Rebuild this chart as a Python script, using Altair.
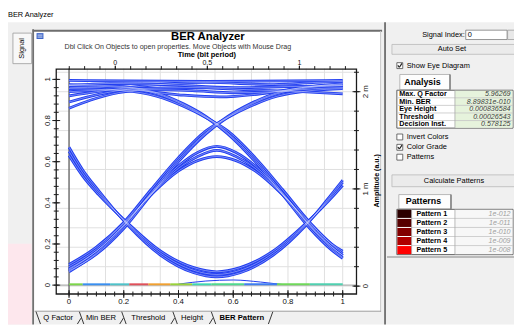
import altair as alt
import pandas as pd

FONT = "Liberation Sans"
BLUE = "#1f3cf0"
OX, OY = 8, 8  # page margin

# ---------------- eye-diagram traces (lower time axis 0..1, left amplitude axis 0..1) ----------------
rise1_x = [0, 0.1, 0.2, 0.3, 0.4, 0.5, 0.58, 0.66, 0.76, 0.88, 1.0]
rise1_y = [0.08, 0.165, 0.29, 0.45, 0.61, 0.74, 0.82, 0.88, 0.935, 0.965, 0.975]
rise2_x = [0, 0.1, 0.2, 0.3, 0.4, 0.5, 0.58, 0.66, 0.76, 0.88, 1.0]
rise2_y = [0.1, 0.185, 0.305, 0.465, 0.62, 0.75, 0.815, 0.868, 0.918, 0.945, 0.955]
rise3_x = [0, 0.1, 0.2, 0.3, 0.4, 0.5, 0.58, 0.66, 0.76, 0.88, 1.0]
rise3_y = [0.07, 0.15, 0.275, 0.44, 0.6, 0.735, 0.815, 0.875, 0.93, 0.96, 0.97]
fall1_x = [0, 0.2, 0.32, 0.42, 0.5, 0.58, 0.68, 0.78, 0.88, 0.96, 1.0]
fall1_y = [0.975, 0.965, 0.935, 0.88, 0.82, 0.74, 0.61, 0.45, 0.29, 0.185, 0.145]
fall2_x = [0, 0.2, 0.32, 0.42, 0.5, 0.58, 0.68, 0.78, 0.88, 0.96, 1.0]
fall2_y = [0.955, 0.945, 0.918, 0.868, 0.815, 0.75, 0.62, 0.465, 0.305, 0.2, 0.165]
fall3_x = [0, 0.2, 0.32, 0.42, 0.5, 0.58, 0.68, 0.78, 0.88, 0.96, 1.0]
fall3_y = [0.97, 0.96, 0.93, 0.875, 0.815, 0.735, 0.6, 0.44, 0.275, 0.17, 0.13]
archA_x = [0, 0.1, 0.2, 0.3, 0.4, 0.47, 0.54, 0.61, 0.68, 0.78, 0.88, 0.98, 1.0]
archA_y = [0.065, 0.155, 0.285, 0.445, 0.58, 0.645, 0.675, 0.645, 0.58, 0.445, 0.285, 0.155, 0.135]
archB_x = [0, 0.1, 0.2, 0.3, 0.4, 0.47, 0.54, 0.61, 0.68, 0.78, 0.88, 0.98, 1.0]
archB_y = [0.09, 0.175, 0.3, 0.44, 0.555, 0.605, 0.625, 0.605, 0.555, 0.44, 0.3, 0.175, 0.155]
archC_x = [0, 0.1, 0.2, 0.3, 0.4, 0.47, 0.54, 0.61, 0.68, 0.78, 0.88, 0.98, 1.0]
archC_y = [0.075, 0.165, 0.292, 0.442, 0.568, 0.625, 0.655, 0.625, 0.568, 0.442, 0.292, 0.165, 0.145]
uA_x = [0, 0.05, 0.108, 0.216, 0.335, 0.456, 0.54, 0.625, 0.745, 0.865, 0.97, 1.0]
uA_y = [0.67, 0.56, 0.46, 0.29, 0.145, 0.06, 0.04, 0.06, 0.145, 0.29, 0.46, 0.51]
uB_x = [0, 0.05, 0.108, 0.216, 0.335, 0.456, 0.54, 0.625, 0.745, 0.865, 0.97, 1.0]
uB_y = [0.63, 0.53, 0.44, 0.3, 0.165, 0.085, 0.065, 0.085, 0.165, 0.3, 0.44, 0.485]
uC_x = [0, 0.05, 0.108, 0.216, 0.335, 0.456, 0.54, 0.625, 0.745, 0.865, 0.97, 1.0]
uC_y = [0.65, 0.545, 0.45, 0.295, 0.155, 0.072, 0.052, 0.072, 0.155, 0.295, 0.45, 0.5]
rail1_x = [0, 0.5, 1.0]
rail1_y = [0.995, 0.99, 0.995]
rail2_x = [0, 0.15, 0.35, 0.6, 0.8, 1.0]
rail2_y = [0.97, 0.98, 0.975, 0.96, 0.965, 0.97]
rail3_x = [0, 0.08, 0.18, 0.3, 0.45, 0.6, 0.75, 0.9, 1.0]
rail3_y = [0.86, 0.9, 0.935, 0.95, 0.945, 0.935, 0.94, 0.955, 0.96]
rail4_x = [0, 0.1, 0.25, 0.45, 0.65, 0.85, 1.0]
rail4_y = [0.89, 0.925, 0.955, 0.96, 0.95, 0.94, 0.93]
rail5_x = [0, 0.2, 0.4, 0.55, 0.7, 0.85, 1.0]
rail5_y = [0.94, 0.95, 0.925, 0.915, 0.93, 0.96, 0.98]
rail6_x = [0, 0.1, 0.25, 0.5, 0.75, 0.9, 1.0]
rail6_y = [0.92, 0.94, 0.965, 0.985, 0.975, 0.985, 0.99]
tail_x = [0.4, 0.5, 0.6, 0.7, 0.78]
tail_y = [0.005, 0.02, 0.025, 0.015, 0.003]

# colour-graded samples lying on the zero level
zero_x0 = [0.0, 0.05, 0.15, 0.22, 0.29, 0.37, 0.45, 0.52, 0.64, 0.76, 0.88]
zero_x1 = [0.05, 0.15, 0.22, 0.29, 0.37, 0.45, 0.52, 0.64, 0.76, 0.88, 1.0]
zero_col = ["#7cd64a", "#3a8ff0", "#4fc2c9", "#e0505a", "#f0a030", "#9ad23a",
            "#3fd6b0", "#50d890", "#3f7ef0", "#6fd85a", "#50d0b0"]

# axes
bottom_vals = [0, 0.2, 0.4, 0.6, 0.8, 1.0]
bottom_labels = ["0", "0.2", "0.4", "0.6", "0.8", "1"]
left_vals = [0, 0.2, 0.4, 0.6, 0.8, 1.0]
left_labels = ["0", "0.2", "0.4", "0.6", "0.8", "1"]
top_vals = [0, 0.5, 1.0]
top_labels = ["0", "0.5", "1"]
right_vals = [0, 1, 2]
right_labels = ["0", "1 m", "2 m"]

# side panel
analysis_labels = ["Max. Q Factor", "Min. BER", "Eye Height", "Threshold", "Decision Inst."]
analysis_values = ["5.96269", "8.89831e-010", "0.000836584", "0.00026543", "0.578125"]
pattern_names = ["Pattern 1", "Pattern 2", "Pattern 3", "Pattern 4", "Pattern 5"]
pattern_values = ["1e-012", "1e-011", "1e-010", "1e-009", "1e-008"]
pattern_colors = ["#2b0000", "#560000", "#820000", "#b00000", "#ff0000"]
tab_names = ["Q Factor", "Min BER", "Threshold", "Height", "BER Pattern"]

# ---------------- scales (pixel ranges inside the whole chart) ----------------
XS = alt.Scale(domain=[0, 1], range=[70 - OX, 348 - OX], nice=False, zero=False)
YS = alt.Scale(domain=[0, 1], range=[287 - OY, 78 - OY], nice=False, zero=False)
XT = alt.Scale(domain=[0, 1], range=[117 - OX, 304 - OX], nice=False, zero=False)
YR = alt.Scale(domain=[0, 2], range=[288 - OY, 90.5 - OY], nice=False, zero=False)

D = pd.DataFrame({"d": [0]})
layers = []


def R(x1, y1, x2, y2, fill, stroke=None, sw=1.0, fo=1.0):
    kw = dict(fill=fill, fillOpacity=fo)
    if stroke:
        kw.update(stroke=stroke, strokeWidth=sw)
    else:
        kw.update(strokeWidth=0)
    layers.append(alt.Chart(D).mark_rect(**kw).encode(
        x=alt.value(x1 - OX), x2=alt.value(x2 - OX), y=alt.value(y1 - OY), y2=alt.value(y2 - OY)))


def L(x1, y1, x2, y2, color, sw=1.0):
    layers.append(alt.Chart(D).mark_rule(color=color, strokeWidth=sw).encode(
        x=alt.value(x1 - OX), x2=alt.value(x2 - OX), y=alt.value(y1 - OY), y2=alt.value(y2 - OY)))


def T(s, x, y, size=7.5, weight="normal", align="left", color="#000000", angle=0, style="normal"):
    layers.append(alt.Chart(D).mark_text(
        text=s, fontSize=size, fontWeight=weight, align=align, baseline="middle",
        color=color, angle=angle, fontStyle=style, font=FONT).encode(
        x=alt.value(x - OX), y=alt.value(y - OY)))


def checkbox(y, checked, label):
    R(403, y - 3, 409, y + 3, "#ffffff", stroke="#4a4a4a", sw=0.8)
    if checked:
        L(404, y - 0.3, 405.6, y + 1.7, "#202020", 1.2)
        L(405.6, y + 1.7, 408.2, y - 2.2, "#202020", 1.2)
    T(label, 413, y, 7.5)


# ---------------- window chrome ----------------
T("BER Analyzer", 8, 13, 7.5)
R(0, 20, 522, 327, "#f0f0f0")
R(0, 245, 32, 327, "#fde7ed")
R(13, 31, 32, 62, "#f8f8f8", stroke="#9a9a9a", sw=0.8)
T("Signal", 22.5, 46.5, 7.5, angle=270, align="center")
L(33.5, 27, 33.5, 327, "#5a5a5a", 1.5)
R(35, 29, 386, 313, "#ffffff")
L(33, 28.5, 388, 28.5, "#6e6e6e", 2)
L(386.5, 29, 386.5, 314, "#c8c8c8")
L(35, 313.5, 387, 313.5, "#a0a0a0")
L(391, 20, 391, 327, "#505050", 1.5)
R(37, 31, 44, 37, "#3c64c8")
L(38, 33, 43, 33, "#ffffff", 0.8)
L(38, 35, 43, 35, "#ffffff", 0.8)
T("BER Analyzer", 211, 35, 11.5, weight="bold", align="center")
T("Dbl Click On Objects to open properties.  Move Objects with Mouse Drag", 180.5, 45, 7.2,
  align="center", color="#333333")
T("Time (bit period)", 210, 53, 7.6, weight="bold", align="center")

# ---------------- grid ----------------
grid_v = pd.DataFrame({"v": [k / 15 for k in range(16)]})
layers.append(alt.Chart(grid_v).mark_rule(color="#e0e0e0", strokeWidth=1).encode(
    x=alt.X("v:Q", scale=XS, axis=None), y=alt.value(67 - OY), y2=alt.value(296 - OY)))
grid_h = pd.DataFrame({"a": [k * 0.2 for k in range(12)]})
layers.append(alt.Chart(grid_h).mark_rule(color="#e0e0e0", strokeWidth=1).encode(
    y=alt.Y("a:Q", scale=YR, axis=None), x=alt.value(57 - OX), x2=alt.value(362 - OX)))
layers.append(alt.Chart(D).mark_rule(color="#b0b0b0", strokeWidth=1.2).encode(
    y=alt.YDatum(0, scale=YS, axis=None), x=alt.value(57 - OX), x2=alt.value(362 - OX)))
layers.append(alt.Chart(D).mark_rule(color="#3a3a3a", strokeWidth=1).encode(
    x=alt.XDatum(0, scale=XS, axis=None), y=alt.value(67 - OY), y2=alt.value(296 - OY)))

# frame
layers.append(alt.Chart(D).mark_rect(fillOpacity=0, stroke="#1a1a1a", strokeWidth=1.3).encode(
    x=alt.value(57 - OX), x2=alt.value(362 - OX), y=alt.value(67.5 - OY), y2=alt.value(296 - OY)))

# ---------------- ticks ----------------
bt_minor = pd.DataFrame({"v": [k / 30 for k in range(31)]})
layers.append(alt.Chart(bt_minor).mark_rule(color="#1a1a1a", strokeWidth=1).encode(
    x=alt.X("v:Q", scale=XS, axis=None), y=alt.value(293.5 - OY), y2=alt.value(298.5 - OY)))
bt_major = pd.DataFrame({"v": bottom_vals, "t": bottom_labels})
layers.append(alt.Chart(bt_major).mark_rule(color="#1a1a1a", strokeWidth=1).encode(
    x=alt.X("v:Q", scale=XS, axis=None), y=alt.value(292 - OY), y2=alt.value(300 - OY)))
layers.append(alt.Chart(bt_major).mark_text(fontSize=8, font=FONT, baseline="middle", color="#111").encode(
    x=alt.X("v:Q", scale=XS, axis=None), y=alt.value(304 - OY), text="t:N"))

lt_minor = pd.DataFrame({"v": [k * 0.04 for k in range(26)]})
layers.append(alt.Chart(lt_minor).mark_rule(color="#1a1a1a", strokeWidth=1).encode(
    y=alt.Y("v:Q", scale=YS, axis=None), x=alt.value(54.5 - OX), x2=alt.value(59.5 - OX)))
lt_major = pd.DataFrame({"v": left_vals, "t": left_labels})
layers.append(alt.Chart(lt_major).mark_rule(color="#1a1a1a", strokeWidth=1).encode(
    y=alt.Y("v:Q", scale=YS, axis=None), x=alt.value(53 - OX), x2=alt.value(61 - OX)))
layers.append(alt.Chart(lt_major).mark_text(fontSize=8, font=FONT, baseline="middle", align="center",
                                            angle=270, color="#111").encode(
    y=alt.Y("v:Q", scale=YS, axis=None), x=alt.value(48.5 - OX), text="t:N"))

tt_minor = pd.DataFrame({"v": [k / 12 for k in range(-3, 16)]})
layers.append(alt.Chart(tt_minor).mark_rule(color="#1a1a1a", strokeWidth=1).encode(
    x=alt.X("v:Q", scale=XT, axis=None), y=alt.value(64.5 - OY), y2=alt.value(68 - OY)))
tt_major = pd.DataFrame({"v": top_vals, "t": top_labels})
layers.append(alt.Chart(tt_major).mark_rule(color="#1a1a1a", strokeWidth=1).encode(
    x=alt.X("v:Q", scale=XT, axis=None), y=alt.value(64 - OY), y2=alt.value(68 - OY)))
layers.append(alt.Chart(tt_major).mark_text(fontSize=7.2, font=FONT, baseline="middle", color="#111").encode(
    x=alt.X("v:Q", scale=XT, axis=None), y=alt.value(61.3 - OY), text="t:N"))

rt_minor = pd.DataFrame({"v": [k * 0.2 for k in range(12)]})
layers.append(alt.Chart(rt_minor).mark_rule(color="#1a1a1a", strokeWidth=1).encode(
    y=alt.Y("v:Q", scale=YR, axis=None), x=alt.value(359.5 - OX), x2=alt.value(364.5 - OX)))
rt_major = pd.DataFrame({"v": right_vals, "t": right_labels})
layers.append(alt.Chart(rt_major).mark_rule(color="#1a1a1a", strokeWidth=1).encode(
    y=alt.Y("v:Q", scale=YR, axis=None), x=alt.value(358 - OX), x2=alt.value(366 - OX)))
layers.append(alt.Chart(rt_major).mark_text(fontSize=8, font=FONT, baseline="middle", align="center",
                                            angle=270, color="#111").encode(
    y=alt.Y("v:Q", scale=YR, axis=None), x=alt.value(372 - OX), text="t:N"))
T("Amplitude (a.u.)", 383, 181, 7.2, weight="bold", align="center", angle=270)

# ---------------- eye traces ----------------
traces = [
    ("rise1", rise1_x, rise1_y, "b"), ("rise2", rise2_x, rise2_y, "b"), ("rise3", rise3_x, rise3_y, "b"),
    ("fall1", fall1_x, fall1_y, "b"), ("fall2", fall2_x, fall2_y, "b"), ("fall3", fall3_x, fall3_y, "b"),
    ("archA", archA_x, archA_y, "b"), ("archB", archB_x, archB_y, "b"), ("archC", archC_x, archC_y, "b"),
    ("uA", uA_x, uA_y, "b"), ("uB", uB_x, uB_y, "b"), ("uC", uC_x, uC_y, "b"),
    ("rail1", rail1_x, rail1_y, "b"), ("rail2", rail2_x, rail2_y, "b"),
    ("rail3", rail3_x, rail3_y, "b"), ("rail4", rail4_x, rail4_y, "b"),
    ("rail5", rail5_x, rail5_y, "b"), ("rail6", rail6_x, rail6_y, "b"),
    ("tail", tail_x, tail_y, "t"),
]
rows = []
for name, xs, ys, kind in traces:
    for i, (xv, yv) in enumerate(zip(xs, ys)):
        rows.append({"trace": name, "i": i, "x": xv, "y": yv, "kind": kind})
eye = pd.DataFrame(rows)
eye_base = alt.Chart(eye).encode(
    x=alt.X("x:Q", scale=XS, axis=None), y=alt.Y("y:Q", scale=YS, axis=None),
    detail="trace:N", order="i:Q")
layers.append(eye_base.transform_filter("datum.kind == 'b'").mark_line(
    color=BLUE, strokeWidth=2.8, interpolate="monotone"))
layers.append(eye_base.transform_filter("datum.kind == 'b'").mark_line(
    color="#ffffff", strokeWidth=0.5, opacity=0.8, interpolate="monotone"))
layers.append(eye_base.transform_filter("datum.kind == 't'").mark_line(
    color=BLUE, strokeWidth=1, interpolate="monotone"))

zero = pd.DataFrame({"x0": zero_x0, "x1": zero_x1, "c": zero_col})
layers.append(alt.Chart(zero).mark_rule(strokeWidth=2).encode(
    x=alt.X("x0:Q", scale=XS, axis=None), x2="x1:Q",
    y=alt.YDatum(0.004, scale=YS, axis=None), color=alt.Color("c:N", scale=None)))

# ---------------- right panel ----------------
T("Signal Index:", 472, 32.5, 7.5, align="right")
R(473, 28, 515, 37.5, "#ffffff", stroke="#7a7a7a", sw=0.8)
T("0", 475, 32.5, 7.5)
R(515.5, 28, 523, 37.5, "#e8e8e8", stroke="#9a9a9a", sw=0.8)
R(398, 42.5, 523, 52.5, "#ebebeb", stroke="#b8b8b8", sw=0.8)
T("Auto Set", 459, 47.5, 7.5, align="center")
checkbox(64, True, "Show Eye Diagram")
R(406, 73, 457, 88.5, "#fdfdfd", stroke="#a8a8a8", sw=0.8)
L(457, 73, 457, 88.5, "#505050", 1)
T("Analysis", 429, 81, 9, weight="bold", align="center")
R(403, 89, 521, 127.5, "#ffffff", stroke="#606060", sw=1)
R(462, 89.5, 520.5, 127, "#e6f3dc")
rh = (127.5 - 89) / 5
for i in range(1, 5):
    L(403, 89 + rh * i, 521, 89 + rh * i, "#c4c4c4", 0.8)
L(462, 89, 462, 127.5, "#a8a8a8", 0.8)
for i, (lab, val) in enumerate(zip(analysis_labels, analysis_values)):
    yc = 89 + rh * (i + 0.5)
    T(lab, 405.5, yc, 7.3, weight="bold")
    T(val, 518.5, yc, 7.2, align="right", style="italic", color="#3c3c3c")
checkbox(136.5, False, "Invert Colors")
checkbox(147, True, "Color Grade")
checkbox(157, False, "Patterns")
R(398, 175, 523, 187, "#ebebeb", stroke="#b8b8b8", sw=0.8)
T("Calculate Patterns", 461, 181, 7.5, align="center")
R(405, 195, 458, 209.5, "#fdfdfd", stroke="#a8a8a8", sw=0.8)
L(458, 195, 458, 209.5, "#505050", 1)
T("Patterns", 430, 202, 9, weight="bold", align="center")
R(403, 210, 521, 256, "#ffffff", stroke="#606060", sw=1)
R(462, 210.5, 520.5, 255.5, "#f7f7f7")
ph = (256 - 210) / 5
for i, (nm, val, col) in enumerate(zip(pattern_names, pattern_values, pattern_colors)):
    y0 = 210 + ph * i
    R(403.5, y0 + 0.5, 418, y0 + ph - 0.5, col)
    if i > 0:
        L(418, y0, 521, y0, "#c4c4c4", 0.8)
    T(nm, 423, y0 + ph / 2, 7.3, weight="bold")
    T(val, 518.5, y0 + ph / 2, 7.2, align="right", style="italic", color="#a0a0a0")
L(418, 210, 418, 256, "#a8a8a8", 0.8)
L(462, 210, 462, 256, "#a8a8a8", 0.8)
L(393, 258.5, 523, 258.5, "#a8a8a8", 1.5)

# ---------------- bottom tabs ----------------
tab_centers = [59, 102.5, 150.5, 195, 245.5]
for nm, cx in zip(tab_names, tab_centers):
    T(nm, cx, 320.5, 7.8, weight="bold" if nm == "BER Pattern" else "normal", align="center")
for bx in [39, 83, 126, 178, 217]:
    L(bx - 2.5, 314, bx + 2, 326.5, "#202020", 0.9)
    if bx > 40:
        L(bx - 4.5, 326.5, bx - 0.8, 320.5, "#202020", 0.9)
L(272.5, 326.5, 277, 314, "#202020", 0.9)

chart = alt.layer(*layers).resolve_scale(x="independent", y="independent").properties(
    width=514, height=319, padding=0,
    autosize=alt.AutoSizeParams(type="none"),
    background="#ffffff",
).configure_view(strokeWidth=0)

chart.save("out.html", embed_options={"renderer": "svg", "actions": False})
